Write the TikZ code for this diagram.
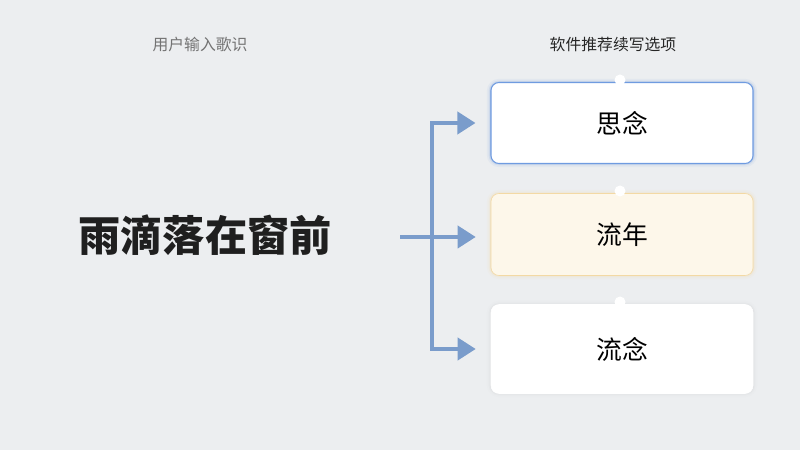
\documentclass[tikz,border=0pt]{standalone}
\usepackage{fontspec}
\setmainfont{Noto Sans CJK SC}
\usetikzlibrary{arrows.meta,positioning,calc}
\definecolor{bgc}{HTML}{ECEEF0}
\definecolor{linkc}{HTML}{7A9CCB}
\definecolor{bluec}{HTML}{6F9BE0}
\definecolor{goldc}{HTML}{F3D9A4}
\definecolor{goldf}{HTML}{FDF7EA}
\tikzset{
  choice/.style={draw=#1, fill=white, rounded corners=2.4mm, line width=0.5pt,
    minimum width=78.6mm, minimum height=24.3mm, font=\fontsize{22}{26}\selectfont},
  pin/.style={circle, fill=white, inner sep=0pt, minimum size=3.3mm},
  link/.style={draw=linkc, line width=3.2pt, -{Triangle[length=5.4mm,width=6.6mm]}, shorten >=4.5mm},
}
\begin{document}
\begin{tikzpicture}[x=0.3mm,y=-0.3mm]
  \fill[bgc] (0,0) rectangle (800,450);
  \useasboundingbox (0,0) rectangle (800,450);
  % headings
  \node[text=black!55, font=\fontsize{13.5}{16}\selectfont] (head1) at (200,45) {用户输入歌识};
  \node[text=black!85, font=\fontsize{13.5}{16}\selectfont] (head2) at (613,45) {软件推荐续写选项};
  \node[text=black!88, font=\fontsize{36}{40}\selectfont\bfseries] (lyric) at (205,235) {雨滴落在窗前};
  % glows
  \foreach \w/\o in {7pt/0.08,4pt/0.15,2pt/0.25}{
    \draw[bluec, line width=\w, opacity=\o, rounded corners=2.4mm] (491,83) rectangle (753,163);
    \draw[goldc, line width=\w, opacity=\o, rounded corners=2.4mm] (491,194) rectangle (753,275);
    \draw[black!25, line width=\w, opacity=\o*0.5, rounded corners=2.4mm] (491,305) rectangle (753,393);
  }
  % options
  \node[choice=bluec, line width=0.9pt] (opt1) at (622,123) {思念};
  \node[choice=goldc, fill=goldf, minimum height=24.6mm] (opt2) at (622,234.5) {流年};
  \node[choice=white, minimum height=26.7mm] (opt3) at (622,349) {流念};
  \node[pin] (pin1) at (620,80) {};
  \node[pin] (pin2) at (620,191) {};
  \node[pin] (pin3) at (620,302) {};
  % branch
  \coordinate (in) at (400,237);
  \coordinate (split) at (432,237);
  \draw[linkc, line width=3.2pt] (in) -- (split);
  \draw[link] (split) -- (split |- opt1.west) -- (opt1.west);
  \draw[link] (split) -- (opt2.west |- split);
  \draw[link] (split) |- (opt3.west);
\end{tikzpicture}
\end{document}
